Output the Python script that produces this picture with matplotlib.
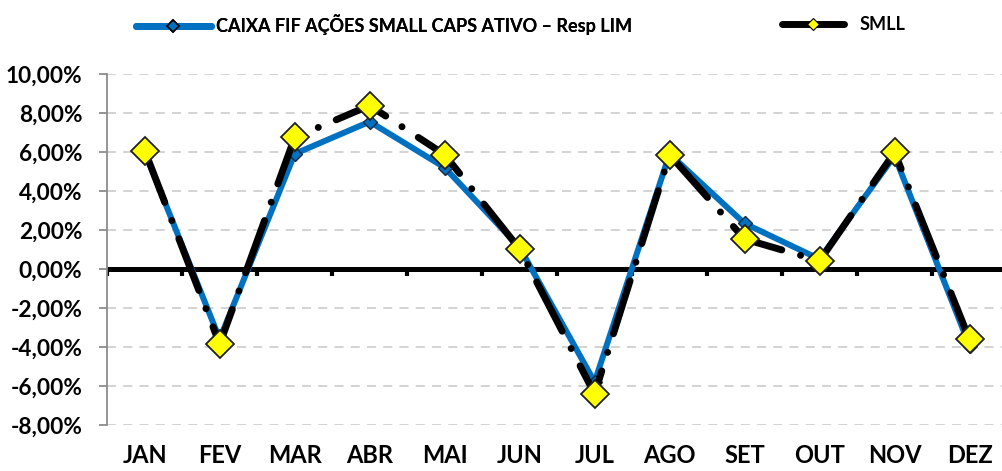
import numpy as np
import matplotlib
matplotlib.use("Agg")
import matplotlib.pyplot as plt
from matplotlib.lines import Line2D
from matplotlib.ticker import FuncFormatter

meses = ['JAN', 'FEV', 'MAR', 'ABR', 'MAI', 'JUN', 'JUL', 'AGO', 'SET', 'OUT', 'NOV', 'DEZ']
# rentabilidade mensal (%)
fundo = [6.0, -3.6, 5.9, 7.55, 5.2, 1.1, -5.8, 5.9, 2.33, 0.5, 5.8, -3.95]
smll = [6.07, -3.86, 6.74, 8.38, 5.86, 1.02, -6.41, 5.85, 1.53, 0.41, 5.98, -3.62]
nome_fundo = 'CAIXA FIF AÇÕES SMALL CAPS ATIVO – Resp LIM'
nome_indice = 'SMLL'
y_ticks = np.arange(-8, 11, 2)

AZUL = '#0070C0'
plt.rcParams['font.family'] = ['Lato', 'DejaVu Sans']
plt.rcParams['font.weight'] = 'bold'

fig = plt.figure(figsize=(10.02, 4.71), dpi=100)
ax = fig.add_axes([0.107, 0.098, 0.898, 0.745])

x = np.arange(len(meses))
ax.set_xlim(-0.5, len(meses) - 0.5)
ax.set_ylim(-8, 10)

# grade tracejada
ax.set_yticks(y_ticks)
ax.grid(axis='y', color='#d0d0d0', linestyle=(0, (5, 4)), linewidth=1.3, zorder=0)
ax.set_axisbelow(True)

# linha do zero + marcas entre os meses
ax.axhline(0, color='black', lw=3.6, zorder=2)
limites = np.arange(-0.5, len(meses), 1)
ax.vlines(limites, -0.38, 0, color='black', lw=3, zorder=2)

ax.plot(x, fundo, color=AZUL, lw=4.3, marker='D', markersize=7,
        markerfacecolor=AZUL, markeredgecolor='#1a2a40', markeredgewidth=1.0,
        solid_capstyle='round', zorder=3)
ax.plot(x, smll, color='black', lw=5, dashes=(8, 2.8, 0.01, 2.8),
        dash_capstyle='round', marker='D', markersize=14,
        markerfacecolor='#FFFF00', markeredgecolor='#202020', markeredgewidth=1.3,
        zorder=4)

# eixos
for s in ['top', 'right', 'bottom']:
    ax.spines[s].set_visible(False)
ax.spines['left'].set_color('#8c8c8c')
ax.spines['left'].set_linewidth(1.3)
ax.tick_params(axis='y', colors='#8c8c8c', length=6, width=1.3, labelsize=16.3,
               labelcolor='black', pad=12)
ax.yaxis.set_major_formatter(FuncFormatter(lambda v, p: f'{v:.2f}%'.replace('.', ',')))
for t in ax.get_yticklabels():
    t.set_fontweight('bold')

ax.set_xticks(x)
ax.set_xticklabels(meses, fontsize=17, fontweight='bold')
ax.tick_params(axis='x', length=0, pad=14)

# legenda
h1 = Line2D([], [], color=AZUL, lw=5, solid_capstyle='round', marker='D', markersize=6,
            markerfacecolor=AZUL, markeredgecolor='black', markeredgewidth=1.2)
h2 = Line2D([], [], color='black', lw=5, solid_capstyle='round', marker='D', markersize=6,
            markerfacecolor='#FFFF00', markeredgecolor='black', markeredgewidth=0.8)
fs = 13
leg1 = fig.legend(handles=[h1], labels=[nome_fundo], loc='center left',
                  bbox_to_anchor=(136 / 1002, 0.947), frameon=False,
                  prop={'weight': 'bold', 'size': fs}, handlelength=4.15,
                  handletextpad=0.3, borderpad=0, borderaxespad=0)
leg2 = fig.legend(handles=[h2], labels=[nome_indice], loc='center left',
                  bbox_to_anchor=(782 / 1002, 0.947), frameon=False,
                  prop={'weight': 'bold', 'size': fs}, handlelength=3.43,
                  handletextpad=0.89, borderpad=0, borderaxespad=0)
fig.add_artist(leg1)

fig.savefig('out.png', dpi=100)
